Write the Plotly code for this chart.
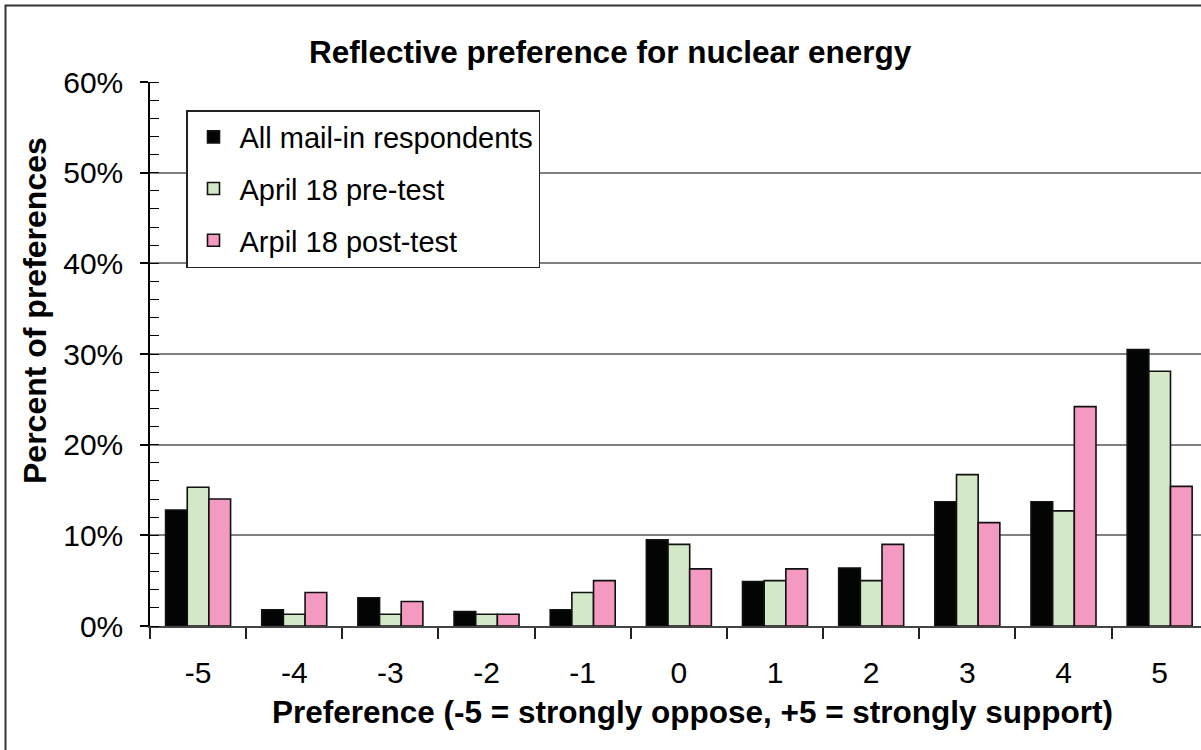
import plotly.graph_objects as go

# Preference scale and percent of preferences per group
preferences = ["-5", "-4", "-3", "-2", "-1", "0", "1", "2", "3", "4", "5"]
all_mail_in = [12.8, 1.8, 3.1, 1.6, 1.8, 9.5, 4.9, 6.4, 13.7, 13.7, 30.5]
april_pre = [15.3, 1.3, 1.3, 1.3, 3.7, 9.0, 5.0, 5.0, 16.7, 12.7, 28.1]
april_post = [14.0, 3.7, 2.7, 1.3, 5.0, 6.3, 6.3, 9.0, 11.4, 24.2, 15.4]

series_names = ["All mail-in respondents", "April 18 pre-test", "Arpil 18 post-test"]
series_values = [all_mail_in, april_pre, april_post]
series_colors = ["#030504", "#D2E8C6", "#F49AC2"]

FONT = "Liberation Sans, Arial, sans-serif"

fig = go.Figure()
for i, (name, vals, col) in enumerate(zip(series_names, series_values, series_colors)):
    fig.add_trace(go.Bar(
        x=preferences, y=vals, name=name, legendgroup=f"g{i}",
        marker=dict(color=col, line=dict(color="#111111", width=1.6)),
    ))

# plot area geometry in pixels
W, H = 1201, 750
L, R, T, B = 150, 0, 82, 124
pw, ph = W - L - R, H - T - B


def px_x(x):
    return (x - L) / pw


def px_y(y):
    return (H - B - y) / ph


fig.update_layout(
    width=W, height=H,
    margin=dict(l=L, r=R, t=T, b=B, autoexpand=False),
    paper_bgcolor="white", plot_bgcolor="white",
    font=dict(family=FONT, color="black", size=29),
    barmode="group", bargap=0.324, bargroupgap=0,
    showlegend=True,
    legend=dict(
        x=px_x(186), y=px_y(110), xanchor="left", yanchor="top",
        bgcolor="white", bordercolor="#222222", borderwidth=1.5,
        font=dict(family=FONT, size=29, color="black"),
        tracegroupgap=11, traceorder="grouped",
        itemwidth=42,
    ),
    xaxis=dict(
        type="category", range=[-0.5, 10.43],
        showgrid=False, showline=True, linecolor="#444444", linewidth=1.5,
        ticks="outside", ticklen=11, tickcolor="#222222", tickwidth=1.5,
        tickson="boundaries", ticklabelstandoff=19,
        tickfont=dict(family=FONT, size=30),
        fixedrange=True,
    ),
    yaxis=dict(
        range=[0, 60], tickvals=[0, 10, 20, 30, 40, 50, 60],
        ticktext=["0%", "10%", "20%", "30%", "40%", "50%", "60%"],
        showgrid=True, gridcolor="#808080", gridwidth=1.5,
        showline=True, linecolor="black", linewidth=1.5,
        ticks="outside", ticklen=8, tickcolor="black", tickwidth=1.5,
        ticklabelstandoff=11,
        minor=dict(dtick=2, ticks="inside", ticklen=9, tickcolor="black",
                   tickwidth=1, showgrid=False),
        zeroline=False,
        tickfont=dict(family=FONT, size=30),
        fixedrange=True,
    ),
    annotations=[
        dict(text="<b>Reflective preference for nuclear energy</b>",
             x=px_x(610), y=px_y(52), xref="paper", yref="paper",
             xanchor="center", yanchor="middle", showarrow=False,
             font=dict(family=FONT, size=31.5, color="black")),
        dict(text="<b>Percent of preferences</b>",
             x=px_x(35), y=px_y(311), xref="paper", yref="paper",
             xanchor="center", yanchor="middle", showarrow=False, textangle=-90,
             font=dict(family=FONT, size=32, color="black")),
        dict(text="<b>Preference (-5 = strongly oppose, +5 = strongly support)</b>",
             x=px_x(692), y=px_y(712), xref="paper", yref="paper",
             xanchor="center", yanchor="middle", showarrow=False,
             font=dict(family=FONT, size=31.5, color="black")),
    ],
    shapes=[
        # outer chart border
        dict(type="rect", xref="paper", yref="paper",
             x0=px_x(5.5), x1=px_x(1215), y0=px_y(760), y1=px_y(5.5),
             line=dict(color="#333333", width=2), fillcolor="rgba(0,0,0,0)",
             layer="below"),
    ],
)

fig.write_html("out.html")
